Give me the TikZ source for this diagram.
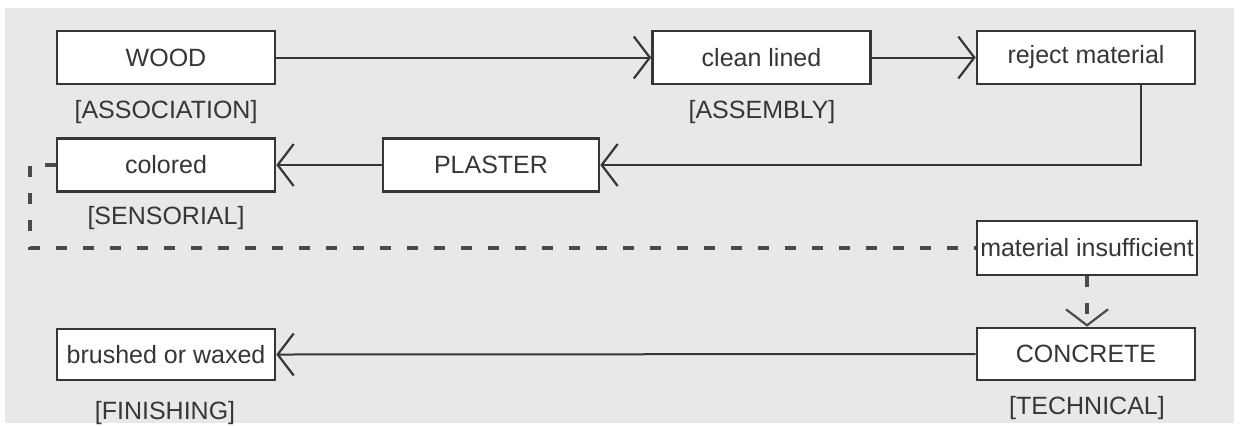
\documentclass[tikz,border=0pt]{standalone}
\usepackage{fontspec}
\setmainfont{Liberation Sans}
\usetikzlibrary{arrows.meta}
\definecolor{bg}{HTML}{E7E8E9}
\definecolor{ink}{HTML}{363636}
\definecolor{dashink}{HTML}{4A4A4A}
\begin{document}
\begin{tikzpicture}[x=0.5pt,y=-0.5pt,
  box/.style={draw=ink, line width=1.3pt, fill=white, minimum width=109pt, minimum height=26.5pt, inner sep=0pt, font=\fontsize{12.5}{15}\selectfont, text=ink},
  lab/.style={inner sep=0pt, font=\fontsize{12.5}{15}\selectfont, text=ink},
  conn/.style={draw=ink, line width=1pt, -{Straight Barb[length=8pt,width=21pt,line width=1.1pt]}},
  dconn/.style={draw=dashink, line width=2.2pt, dash pattern=on 5.5pt off 8pt},
  darr/.style={dconn, -{Straight Barb[length=8pt,width=21pt,line width=1.1pt]}}]
\useasboundingbox (0,0) rectangle (1242,425);
\fill[white] (0,0) rectangle (1242,425);
\fill[bg] (5,8) rectangle (1234,423);
% boxes
\node[box] (wood) at (166,57.5) {WOOD};
\node[box] (clean) at (761.5,57.5) {clean lined};
\node[box] (reject) at (1086,57.5) {reject material};
\node[box, minimum width=108pt] (plaster) at (491,165) {PLASTER};
\node[box] (colored) at (166,165) {colored};
\node[box, minimum width=110pt, minimum height=27pt] (mi) at (1087,248) {material insufficient};
\node[box, minimum height=26pt] (concrete) at (1086,354) {CONCRETE};
\node[box, minimum height=25.5pt] (brushed) at (166,354.5) {brushed or waxed};
% labels
\node[lab] (lassoc) at (166,112) {[ASSOCIATION]};
\node[lab] (lassem) at (762,112) {[ASSEMBLY]};
\node[lab] (lsens) at (166,218) {[SENSORIAL]};
\node[lab] (lfin) at (165,413) {[FINISHING]};
\node[lab] (ltech) at (1087,408) {[TECHNICAL]};
% connectors
\coordinate (rdown) at ([xshift=27.5pt]reject.south);
\coordinate (dcorner) at ([xshift=-13pt]colored.west);
\draw[conn] (wood.east) -- (clean.west);
\draw[conn] (clean.east) -- (reject.west);
\draw[conn] (rdown) |- (plaster.east);
\draw[conn] (plaster.west) -- (colored.east);
\draw[dconn] (colored.west) -- (dcorner) |- (mi.west);
\draw[darr] (mi.south) -- (mi.south |- concrete.north);
\draw[conn] (concrete.west) -- (brushed.east);
\end{tikzpicture}
\end{document}
